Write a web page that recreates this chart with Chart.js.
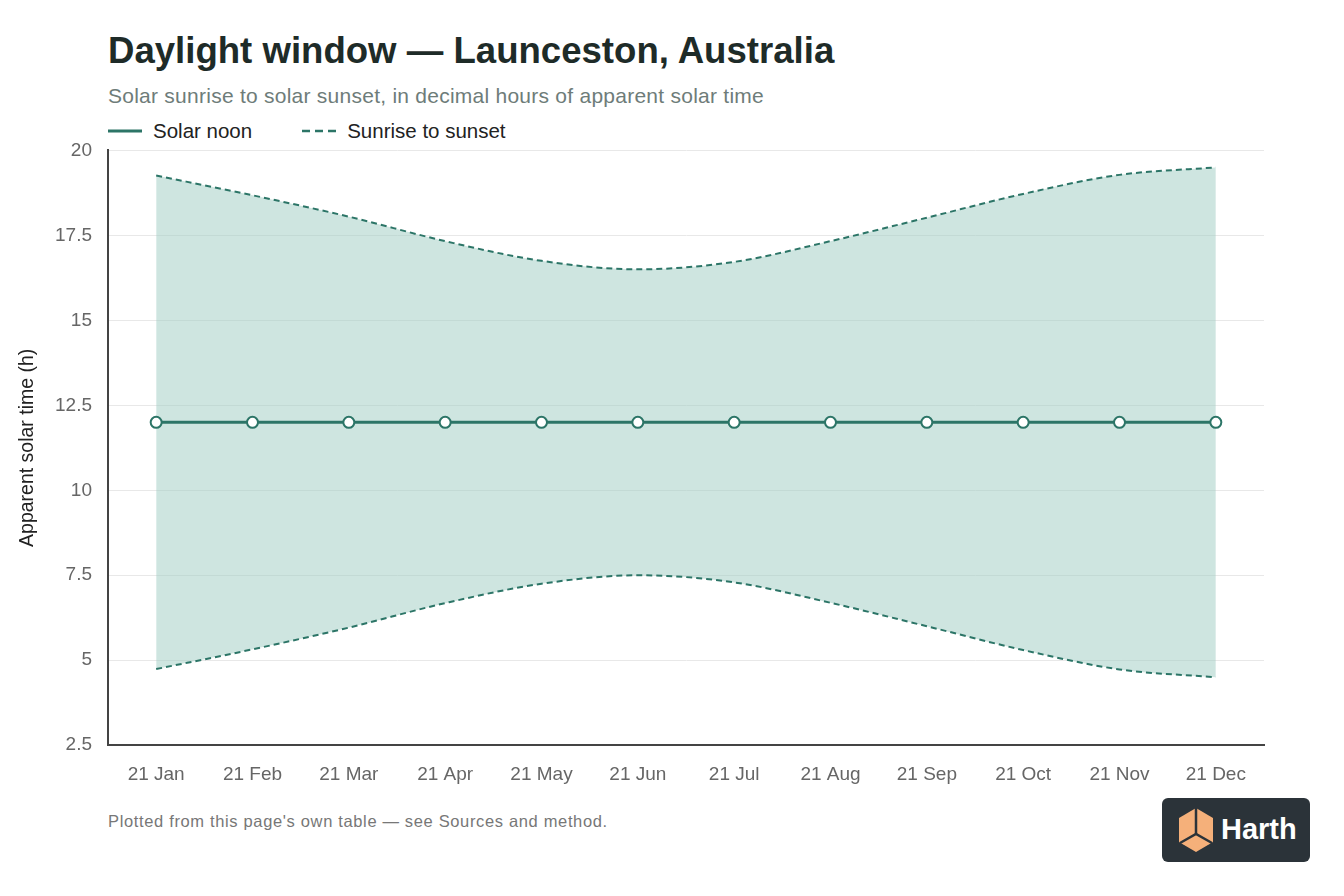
<!DOCTYPE html>
<html>
<head>
<meta charset="utf-8">
<script src="https://cdn.jsdelivr.net/npm/chart.js@4/dist/chart.umd.min.js"></script>
<style>
  body { margin: 0; background: #fff; font-family: "Liberation Sans", Arial, sans-serif; }
  #wrap { position: relative; width: 1344px; height: 896px; }
  .title { position: absolute; left: 108px; top: 30px; font-size: 36.6px; font-weight: bold; color: #1e2b28; }
  .sub { position: absolute; left: 108px; top: 84px; font-size: 21px; letter-spacing: 0.25px; color: #6e7c79; }
  .legend { position: absolute; left: 108px; top: 119px; font-size: 20.5px; color: #222; display: flex; align-items: center; }
  .legend .item { display: flex; align-items: center; margin-right: 50px; }
  .legend svg { margin-right: 11px; }
  .foot { position: absolute; left: 108px; top: 812px; font-size: 16.5px; letter-spacing: 0.65px; color: #777; }
  .badge { position: absolute; left: 1162px; top: 798px; width: 148px; height: 64px; background: #2b3339; border-radius: 6px; }
  .badge span { position: absolute; left: 59px; top: 15px; font-size: 29px; font-weight: bold; color: #fff; }
  #box { position: absolute; left: 0; top: 123px; width: 1290px; height: 689px; }
</style>
</head>
<body>
<div id="wrap">
  <div class="title">Daylight window — Launceston, Australia</div>
  <div class="sub">Solar sunrise to solar sunset, in decimal hours of apparent solar time</div>
  <div class="legend" id="legend"></div>
  <div id="box"><canvas id="chart"></canvas></div>
  <div class="foot">Plotted from this page's own table — see Sources and method.</div>
  <div class="badge">
    <svg width="40" height="48" style="position:absolute;left:14px;top:8px" viewBox="0 0 40 48">
      <polygon points="20,2 37,12 37,36 20,46 3,36 3,12" fill="#f5b07a"/>
      <line x1="20" y1="2" x2="20" y2="28" stroke="#2b3339" stroke-width="2.5"/>
      <polyline points="4,37 20,28 36,37" fill="none" stroke="#2b3339" stroke-width="2.5"/>
      <polygon points="7,38 20,31 33,38 20,44" fill="#f5b07a"/>
    </svg>
    <span>Harth</span>
  </div>
</div>
<script>
const months = ['21 Jan', '21 Feb', '21 Mar', '21 Apr', '21 May', '21 Jun',
                '21 Jul', '21 Aug', '21 Sep', '21 Oct', '21 Nov', '21 Dec'];
const sunrise = [4.74, 5.32, 5.96, 6.68, 7.25, 7.5, 7.29, 6.69, 6.0, 5.3, 4.73, 4.5];
const sunset = [19.26, 18.68, 18.05, 17.33, 16.75, 16.5, 16.72, 17.33, 18.02, 18.72, 19.28, 19.5];
const solarNoon = [12, 12, 12, 12, 12, 12, 12, 12, 12, 12, 12, 12];
const yTicks = [2.5, 5, 7.5, 10, 12.5, 15, 17.5, 20];

const teal = '#2c7567';
const fillTeal = 'rgba(162, 205, 196, 0.52)';
const dash = [6, 4];

// legend built by hand so it lines up with the plot's left edge
const legendItems = [
  { label: 'Solar noon', dash: null, width: 3 },
  { label: 'Sunrise to sunset', dash: [8, 5], width: 2.5 }
];
document.getElementById('legend').innerHTML = legendItems.map(it =>
  '<div class="item"><svg width="34" height="6"><line x1="0" y1="3" x2="34" y2="3" stroke="' + teal +
  '" stroke-width="' + it.width + '"' + (it.dash ? ' stroke-dasharray="' + it.dash.join(' ') + '"' : '') +
  '/></svg>' + it.label + '</div>').join('');

const tickFont = { family: '"Liberation Sans", Arial, sans-serif', size: 19 };

new Chart(document.getElementById('chart'), {
  type: 'line',
  data: {
    labels: months,
    datasets: [
      {
        label: 'Solar noon',
        data: solarNoon,
        borderColor: teal,
        borderWidth: 3,
        pointRadius: 5.5,
        pointBackgroundColor: '#fff',
        pointBorderColor: teal,
        pointBorderWidth: 2,
        fill: false
      },
      {
        label: 'Sunrise',
        data: sunrise,
        borderColor: teal,
        borderWidth: 2,
        borderDash: dash,
        pointRadius: 0,
        cubicInterpolationMode: 'monotone',
        fill: false
      },
      {
        label: 'Sunset',
        data: sunset,
        borderColor: teal,
        borderWidth: 2,
        borderDash: dash,
        pointRadius: 0,
        cubicInterpolationMode: 'monotone',
        backgroundColor: fillTeal,
        fill: '-1'
      }
    ]
  },
  options: {
    responsive: true,
    maintainAspectRatio: false,
    animation: false,
    layout: { padding: { left: 12, right: 26, top: 10, bottom: 8 } },
    plugins: {
      legend: { display: false },
      tooltip: { enabled: false }
    },
    scales: {
      x: {
        offset: true,
        grid: { display: false, drawTicks: false },
        border: { display: true, color: '#444', width: 2 },
        ticks: { color: '#666', font: tickFont, padding: 18, maxRotation: 0, autoSkip: false }
      },
      y: {
        min: 2.5,
        max: 20,
        afterBuildTicks: s => { s.ticks = yTicks.map(v => ({ value: v })); },
        afterFit: s => { s.width = 96; },
        grid: { color: '#e8e8e8', drawTicks: false },
        border: { display: true, color: '#444', width: 2 },
        ticks: { color: '#666', font: tickFont, padding: 16 },
        title: {
          display: true,
          text: 'Apparent solar time (h)',
          color: '#222',
          font: { family: '"Liberation Sans", Arial, sans-serif', size: 19.5 },
          padding: 4
        }
      }
    }
  }
});
</script>
</body>
</html>
